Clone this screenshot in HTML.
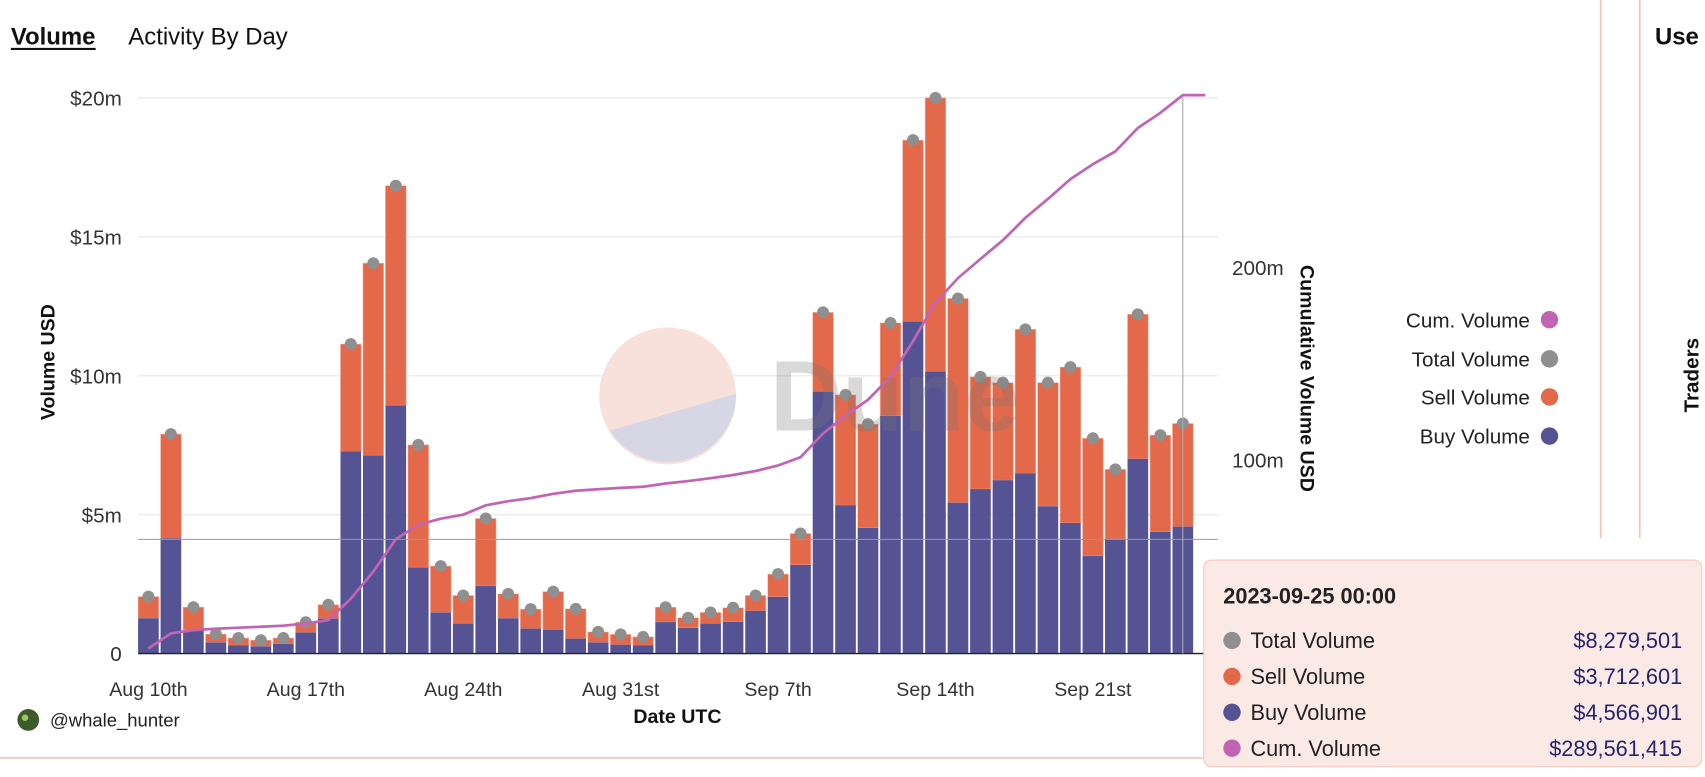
<!DOCTYPE html>
<html><head><meta charset="utf-8"><style>
html,body{margin:0;padding:0;background:#fff;overflow:hidden}
svg{display:block;font-family:"Liberation Sans",sans-serif}
</style></head><body>
<svg id="chart" width="1705" height="777" viewBox="0 0 1568 714.5" preserveAspectRatio="none" xmlns="http://www.w3.org/2000/svg">
<text x="10" y="41" font-size="22" font-weight="bold" fill="#111">Volume</text>
<line x1="10" y1="45" x2="88" y2="45" stroke="#111" stroke-width="2"/>
<text x="118" y="41" font-size="22" fill="#111">Activity By Day</text>
<line x1="1472" y1="0" x2="1472" y2="495" stroke="#f5c0b8" stroke-width="1.5"/>
<line x1="1508" y1="0" x2="1508" y2="495" stroke="#f5c0b8" stroke-width="1.5"/>
<line x1="0" y1="697" x2="1106" y2="697" stroke="#f5c0b8" stroke-width="1.5"/>
<text x="1522" y="41" font-size="22" font-weight="bold" fill="#111">Use</text>
<text transform="translate(1562,345) rotate(-90)" text-anchor="middle" font-size="19" font-weight="bold" fill="#111">Traders</text>
<g id="grid"></g>
<g id="watermark">
<circle cx="614" cy="364" r="63" fill="#f8e1db"/>
<path d="M 677 362 A 63 63 0 0 1 561 396 Z" fill="#d6d6e4"/>
</g>
<g id="bars"></g>
<text x="708" y="396" font-size="92" font-weight="bold" fill="rgba(120,120,120,0.28)">Dune</text>
<g id="line"></g>
<g id="axes"></g>
<text transform="translate(50,333) rotate(-90)" text-anchor="middle" font-size="18" font-weight="bold" fill="#111">Volume USD</text>
<text transform="translate(1196,348) rotate(90)" text-anchor="middle" font-size="18" font-weight="bold" fill="#111">Cumulative Volume USD</text>
<text x="623" y="665" text-anchor="middle" font-size="18" font-weight="bold" fill="#111">Date UTC</text>
<circle cx="26" cy="662" r="10" fill="#3d5a2a"/>
<circle cx="23" cy="660" r="3" fill="#9bc46a"/>
<text x="46" y="668" font-size="17" fill="#222">@whale_hunter</text>
<g>
<g><text x="1407" y="301" text-anchor="end" font-size="19" fill="#222">Cum. Volume</text><circle cx="1425" cy="294" r="8" fill="#c264b4"/></g>
<g><text x="1407" y="337" text-anchor="end" font-size="19" fill="#222">Total Volume</text><circle cx="1425" cy="330" r="8" fill="#8f8f8f"/></g>
<g><text x="1407" y="372" text-anchor="end" font-size="19" fill="#222">Sell Volume</text><circle cx="1425" cy="365" r="8" fill="#e4694a"/></g>
<g><text x="1407" y="408" text-anchor="end" font-size="19" fill="#222">Buy Volume</text><circle cx="1425" cy="401" r="8" fill="#555394"/></g>
</g>
<g id="crosshair">
<line x1="127" y1="496" x2="1120" y2="496" stroke="#999" stroke-width="1"/>
</g>
<g>
<rect x="1107" y="515" width="458" height="190" rx="7" fill="#fbe9e6" stroke="#f5c9c0"/>
<text x="1125" y="555" font-size="20" font-weight="bold" fill="#222">2023-09-25 00:00</text>
<circle cx="1133" cy="589" r="8" fill="#8f8f8f"/><text x="1150" y="596" font-size="20" fill="#222">Total Volume</text><text x="1547" y="596" text-anchor="end" font-size="20" fill="#24246e">$8,279,501</text>
<circle cx="1133" cy="622" r="8" fill="#e4694a"/><text x="1150" y="629" font-size="20" fill="#222">Sell Volume</text><text x="1547" y="629" text-anchor="end" font-size="20" fill="#24246e">$3,712,601</text>
<circle cx="1133" cy="655" r="8" fill="#555394"/><text x="1150" y="662" font-size="20" fill="#222">Buy Volume</text><text x="1547" y="662" text-anchor="end" font-size="20" fill="#24246e">$4,566,901</text>
<circle cx="1133" cy="688" r="8" fill="#c264b4"/><text x="1150" y="695" font-size="20" fill="#222">Cum. Volume</text><text x="1547" y="695" text-anchor="end" font-size="20" fill="#24246e">$289,561,415</text>
</g>
</svg>
<script>
const totalVolume=[2.05,7.9,1.67,0.7,0.56,0.48,0.56,1.13,1.76,11.14,14.05,16.84,7.51,3.15,2.09,4.86,2.15,1.6,2.23,1.61,0.78,0.69,0.6,1.67,1.29,1.48,1.65,2.09,2.86,4.32,12.28,9.31,8.26,11.9,18.48,20.0,12.78,9.96,9.75,11.67,9.75,10.31,7.75,6.63,12.21,7.86,8.28,0.02];
const buyVolume=[1.27,4.15,0.85,0.4,0.3,0.26,0.35,0.76,1.26,7.28,7.13,8.93,3.1,1.48,1.08,2.43,1.27,0.9,0.86,0.54,0.4,0.32,0.3,1.13,0.92,1.08,1.14,1.54,2.04,3.19,9.43,5.34,4.52,8.55,11.95,10.15,5.43,5.92,6.24,6.49,5.3,4.7,3.51,4.13,7.01,4.38,4.57,0.01];
const cumVolume=[2.05,9.95,11.62,12.32,12.88,13.36,13.92,15.05,16.81,27.95,42.0,58.84,66.35,69.5,71.59,76.45,78.6,80.2,82.43,84.04,84.82,85.51,86.11,87.78,89.07,90.55,92.2,94.29,97.15,101.47,113.75,123.06,131.32,143.22,161.7,181.7,194.48,204.44,214.19,225.86,235.61,245.92,253.67,260.3,272.51,280.37,289.56,289.58];
const xTickLabels=["Aug 10th","Aug 17th","Aug 24th","Aug 31st","Sep 7th","Sep 14th","Sep 21st"];
const xTickIndex=[0,7,14,21,28,35,42];
const yTickValues=[0,5,10,15,20];
const yTickLabels=["0","$5m","$10m","$15m","$20m"];
const y2TickValues=[100,200];
const y2TickLabels=["100m","200m"];
const hoverIndex=46;

const NS="http://www.w3.org/2000/svg";
const X0=136.5, STEP=20.68, BW=19;
const x=i=>X0+i*STEP;
const y=v=>601-v*25.55;
const y2=v=>600-v*1.77;
function mk(tag,attrs,parent){const e=document.createElementNS(NS,tag);for(const k in attrs)e.setAttribute(k,attrs[k]);parent.appendChild(e);return e;}
const grid=document.getElementById('grid'),bars=document.getElementById('bars'),line=document.getElementById('line'),axes=document.getElementById('axes');
yTickValues.forEach((v,k)=>{
  if(v>0){const g=mk('line',{x1:127,x2:1120,y1:y(v),y2:y(v),stroke:'#eeeeee','stroke-width':1.5},grid);
  
  }
  const t=mk('text',{x:112,y:y(v)+7,'text-anchor':'end','font-size':19,fill:'#333'},axes);t.textContent=yTickLabels[k];
  
  
});
y2TickValues.forEach((v,k)=>{
  const t=mk('text',{x:1133,y:y2(v)+7,'font-size':19,fill:'#333'},axes);t.textContent=y2TickLabels[k];
  
  
});
xTickLabels.forEach((l,k)=>{
  const t=mk('text',{x:x(xTickIndex[k]),y:640,'text-anchor':'middle','font-size':18,fill:'#333'},axes);t.textContent=l;
  
  
});
totalVolume.forEach((tv,i)=>{
  const bv=buyVolume[i];
  const s=mk('rect',{x:x(i)-BW/2,y:y(tv),width:BW,height:y(bv)-y(tv),fill:'#e4694a',stroke:'#f3b3a3','stroke-width':0.5},bars);
  
  
  const b=mk('rect',{x:x(i)-BW/2,y:y(bv),width:BW,height:601-y(bv),fill:'#555394'},bars);
  
  
  if(tv>0.1){const d=mk('circle',{cx:x(i),cy:y(tv),r:5.5,fill:'#8f8f8f'},bars);
  
  }
});
const base=mk('line',{x1:127,x2:1120,y1:601,y2:601,stroke:'#222','stroke-width':1.2},axes);


const vl=mk('line',{x1:x(hoverIndex),x2:x(hoverIndex),y1:90,y2:601,stroke:'#aaa','stroke-width':1},document.getElementById('crosshair'));


const pts=cumVolume.map((v,i)=>x(i)+','+y2(v)).join(' ');
const pl=mk('polyline',{points:pts,fill:'none',stroke:'#c264b4','stroke-width':2.5,'stroke-linejoin':'round'},line);


</script>
</body></html>
